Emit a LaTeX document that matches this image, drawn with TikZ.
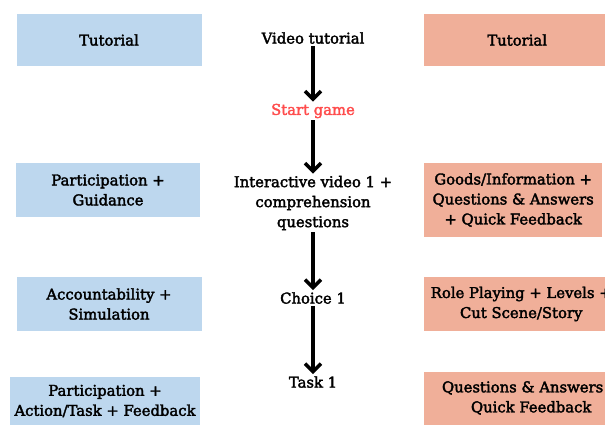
\documentclass[tikz,border=0pt]{standalone}
\usepackage{fontspec}
\setmainfont{DejaVu Serif}[FakeBold=2.4]
\usepackage{tikz}
\usetikzlibrary{arrows.meta, positioning}
\definecolor{boxblue}{HTML}{BDD7EE}
\definecolor{boxsalmon}{HTML}{F0AF99}
\definecolor{startred}{HTML}{FF4D4D}

\begin{document}
\begin{tikzpicture}[x=1pt, y=-1pt,
	txt/.style={font=\fontsize{14.8}{20}\selectfont, align=center, inner sep=2pt},
	lbox/.style={txt, fill=boxblue, minimum width=185pt},
	rbox/.style={txt, fill=boxsalmon, anchor=west},
	flow/.style={line width=3.5pt, -{Straight Barb[length=8pt, width=16pt, line width=3.5pt]}}]
\useasboundingbox (0,0) rectangle (605,428);

% middle column
\node[txt] (vid) at (313,38) {Video tutorial};
\node[txt, text=startred] (start) at (313,111) {Start game};
\node[txt] (ivid) at (313,203) {Interactive video 1 +\\comprehension\\questions};
\node[txt] (choice) at (313,298) {Choice 1};
\node[txt] (task) at (313,382) {Task 1};

\draw[flow] (vid) -- (start);
\draw[flow] (start) -- (ivid);
\draw[flow] (ivid) -- (choice);
\draw[flow] (choice) -- (task);

% left column
\node[lbox, minimum height=52pt] (lt1) at (109,40) {Tutorial};
\node[lbox, minimum height=54pt, minimum width=184pt] (lt2) at (108,190) {Participation +\\Guidance};
\node[lbox, minimum height=54pt] (lt3) at (109,304) {Accountability +\\Simulation};
\node[lbox, minimum height=48pt, minimum width=190pt] (lt4) at (105,401) {Participation +\\Action/Task + Feedback};

% right column (cut at the page edge)
\node[rbox, minimum height=52pt, minimum width=186pt] (rt1) at (424,40) {Tutorial};
\node[rbox, minimum height=74pt, minimum width=178pt] (rt2) at (424,200) {Goods/Information +\\Questions \& Answers\\+ Quick Feedback};
\node[rbox, minimum height=54pt, minimum width=194pt] (rt3) at (424,304) {Role Playing + Levels +\\Cut Scene/Story};
\node[rbox, minimum height=53pt, minimum width=214pt] (rt4) at (424,398) {Questions \& Answers\phantom{ +}\\Quick Feedback};

%	\draw (lt1) -- (rt1);
\end{tikzpicture}
\end{document}
